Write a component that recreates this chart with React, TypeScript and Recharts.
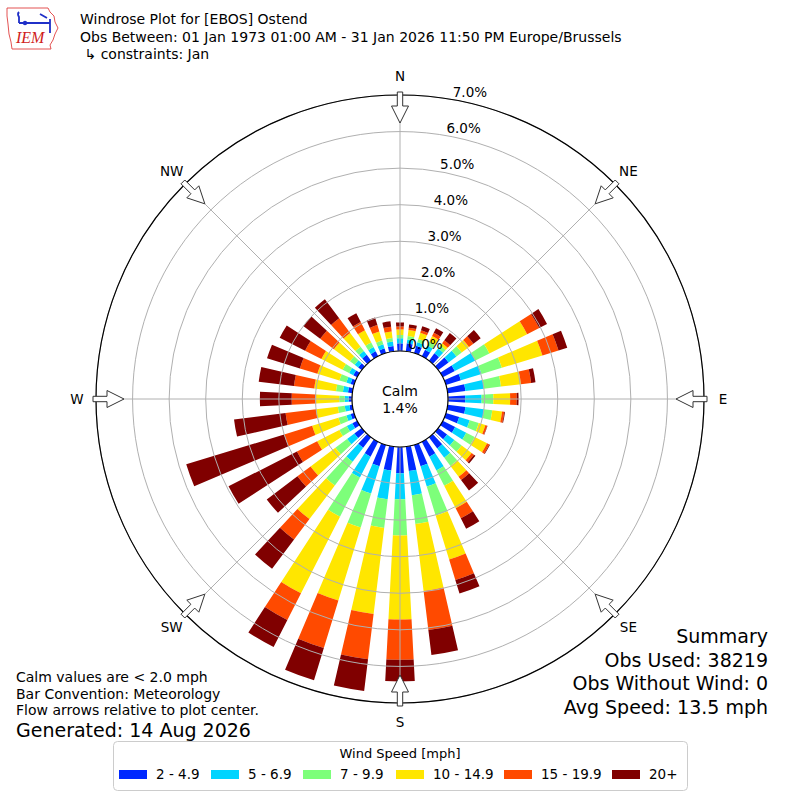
import React from 'react';
import { RadialBarChart, RadialBar, PolarAngleAxis, PolarRadiusAxis, PolarGrid } from 'recharts';

// ---------- data ----------
const directions = ['0','10','20','30','40','50','60','70','80','90','100','110','120','130','140','150','160','170','180','190','200','210','220','230','240','250','260','270','280','290','300','310','320','330','340','350'];
const speed2to5 = [0.21,0.22,0.21,0.20,0.25,0.35,0.37,0.43,0.49,0.47,0.49,0.38,0.38,0.30,0.38,0.46,0.61,0.67,0.72,0.66,0.61,0.46,0.36,0.25,0.15,0.10,0.08,0.09,0.12,0.10,0.12,0.12,0.20,0.15,0.13,0.15];
const speed5to7 = [0.14,0.11,0.10,0.13,0.17,0.27,0.63,0.59,0.51,0.45,0.51,0.30,0.34,0.25,0.32,0.42,0.58,0.67,0.71,0.79,0.78,0.64,0.48,0.25,0.17,0.12,0.13,0.11,0.14,0.12,0.13,0.12,0.13,0.13,0.12,0.12];
const speed7to10 = [0.09,0.09,0.09,0.12,0.10,0.18,0.43,0.58,0.47,0.32,0.23,0.26,0.26,0.25,0.28,0.47,0.83,0.79,0.99,0.79,0.97,1.20,0.81,0.40,0.23,0.23,0.19,0.15,0.19,0.20,0.20,0.16,0.15,0.14,0.11,0.10];
const speed10to15 = [0.15,0.17,0.18,0.17,0.08,0.25,1.16,1.16,0.55,0.46,0.27,0.19,0.38,0.34,0.37,0.69,1.26,1.85,2.30,2.37,2.09,2.35,1.15,0.85,0.68,0.75,0.60,0.63,0.60,0.63,0.65,0.55,0.47,0.38,0.26,0.18];
const speed15to20 = [0.08,0.06,0.07,0.10,0.10,0.15,0.37,0.46,0.28,0.18,0.06,0.05,0.07,0.08,0.11,0.31,0.58,1.07,1.10,1.25,1.36,0.82,0.70,0.45,0.62,0.80,0.84,0.67,0.56,0.50,0.50,0.47,0.50,0.25,0.18,0.13];
const speed20plus = [0.11,0.09,0.12,0.14,0.25,0.25,0.24,0.25,0.12,0.05,0.02,0.01,0.02,0.05,0.36,0.32,0.39,0.69,0.59,0.87,0.92,0.83,1.00,1.05,2.10,2.80,1.42,0.87,0.97,0.94,0.78,0.58,0.65,0.27,0.22,0.15];

const seriesNames = ['2 - 4.9','5 - 6.9','7 - 9.9','10 - 14.9','15 - 19.9','20+'];
const seriesValues = [speed2to5, speed5to7, speed7to10, speed10to15, speed15to20, speed20plus];
const radiusTicks = [0,1,2,3,4,5,6,7];
const compassLabels = ['N','NE','E','SE','S','SW','W','NW'];
const compassDegrees = [0,45,90,135,180,225,270,315];

const titleLines = ['Windrose Plot for [EBOS] Ostend','Obs Between: 01 Jan 1973 01:00 AM - 31 Jan 2026 11:50 PM Europe/Brussels',' \u21b3 constraints: Jan'];
const noteLines = ['Calm values are < 2.0 mph','Bar Convention: Meteorology','Flow arrows relative to plot center.'];
const generatedText = 'Generated: 14 Aug 2026';
const summaryLines = ['Summary','Obs Used: 38219','Obs Without Wind: 0','Avg Speed: 13.5 mph'];
const calmText = ['Calm','1.4%'];
const legendTitle = 'Wind Speed [mph]';

// ---------- styles / layout ----------
const COLORS = ['#0028ff','#00d4ff','#7dff7a','#ffe600','#ff4a00','#800000'];
const FONT = '"DejaVu Sans", Verdana, sans-serif';
const CX = 400, CY = 399, R_IN = 48, R_OUT = 304;
const legendX = [119,211,303,396,504,612];

const keys = seriesNames.map((_, i) => 's' + i);
const data = directions.map((d, j) => {
  const row: any = { dir: d };
  keys.forEach((k, i) => { row[k] = seriesValues[i][j]; });
  return row;
});

const RTick = (props: any) => {
  const { x, y, payload } = props;
  return (
    <text x={x} y={y - 3} textAnchor="start" fontSize={13.5} fontFamily={FONT} fill="#000">
      {Number(payload.value).toFixed(1) + '%'}
    </text>
  );
};

function arrowPoints(deg: number) {
  const t = (deg * Math.PI) / 180;
  const ux = Math.sin(t), uy = -Math.cos(t);
  const px = Math.cos(t), py = Math.sin(t);
  const P = (r: number, w: number) => `${CX + r * ux + w * px},${CY + r * uy + w * py}`;
  return [P(307, 2.7), P(293, 2.7), P(293, 8.5), P(276, 0), P(293, -8.5), P(293, -2.7), P(307, -2.7)].join(' ');
}

export default function App() {
  return (
    <div style={{ position: 'absolute', left: 0, top: 0, width: 800, height: 800, background: '#fff' }}>
      <RadialBarChart
        width={800}
        height={800}
        data={data}
        layout="centric"
        cx={CX}
        cy={CY}
        innerRadius={R_IN}
        outerRadius={R_OUT}
        startAngle={85}
        endAngle={-275}
        barCategoryGap="20%"
        margin={{ top: 0, right: 0, bottom: 0, left: 0 }}
      >
        <PolarAngleAxis type="category" dataKey="dir" tick={false} axisLine={false} tickLine={false} />
        <PolarRadiusAxis type="number" domain={[0, 7]} ticks={radiusTicks} angle={80} axisLine={false} tickLine={false} tick={<RTick />} />
        {keys.map((k, i) => (
          <RadialBar key={k} dataKey={k} stackId="a" fill={COLORS[i]} isAnimationActive={false} />
        ))}
        <PolarGrid gridType="circle" polarAngles={[90, 45, 0, -45, -90, -135, 180, 135]} stroke="#b0b0b0" strokeWidth={1} zIndex={900} />
      </RadialBarChart>
      <svg width={800} height={800} style={{ position: 'absolute', left: 0, top: 0, pointerEvents: 'none' }} fontFamily={FONT}>
        <circle cx={CX} cy={CY} r={R_OUT} fill="none" stroke="#000" strokeWidth={1.2} />
        <circle cx={CX} cy={CY} r={R_IN} fill="#fff" stroke="#000" strokeWidth={1.2} />
        <text x={CX} y={CY - 3} textAnchor="middle" fontSize={14}>{calmText[0]}</text>
        <text x={CX} y={CY + 14} textAnchor="middle" fontSize={14}>{calmText[1]}</text>
        {compassDegrees.map((d, i) => {
          const t = (d * Math.PI) / 180;
          return (
            <g key={d}>
              <polygon points={arrowPoints(d)} fill="#fff" stroke="#333" strokeWidth={1} />
              <text x={CX + 323 * Math.sin(t)} y={CY - 323 * Math.cos(t) + 5} textAnchor="middle" fontSize={13.5}>{compassLabels[i]}</text>
            </g>
          );
        })}
        {/* logo */}
        <path d="M7,8 L48,8 L50,12 L54,16 L55,22 L58,28 L55,34 L53,40 L50,45 L51,49 L12,49 L11,42 L9,34 L8,24 L7,16 Z" fill="#fff" stroke="#e04040" strokeWidth={0.9} />
        <path d="M19,12 Q17,14 19,17 L19,23 M19,23 L50,23 M50,19 L50,33 M40,14 L47,18" stroke="#2030c8" strokeWidth={1.8} fill="none" />
        <circle cx={25} cy={23} r={2.2} fill="#2030c8" />
        <text x={16} y={43} fontSize={16} fontFamily="'Liberation Serif', serif" fontStyle="italic" fill="#d02020">IEM</text>
        {titleLines.map((s, i) => (
          <text key={i} x={80} y={24 + i * 17.5} fontSize={14} style={{ whiteSpace: 'pre' }}>{s}</text>
        ))}
        {noteLines.map((s, i) => (
          <text key={i} x={16} y={682 + i * 16.5} fontSize={14}>{s}</text>
        ))}
        <text x={16} y={737} fontSize={19}>{generatedText}</text>
        {summaryLines.map((s, i) => (
          <text key={i} x={768} y={643 + i * 23.5} fontSize={19} textAnchor="end">{s}</text>
        ))}
        <rect x={113.5} y={741.5} width={574} height={49} rx={4} fill="#fff" stroke="#cccccc" />
        <text x={400} y={758} textAnchor="middle" fontSize={13}>{legendTitle}</text>
        {seriesNames.map((n, i) => (
          <g key={n}>
            <rect x={legendX[i]} y={770} width={28} height={9} fill={COLORS[i]} />
            <text x={legendX[i] + 37} y={779} fontSize={13.5}>{n}</text>
          </g>
        ))}
      </svg>
    </div>
  );
}
